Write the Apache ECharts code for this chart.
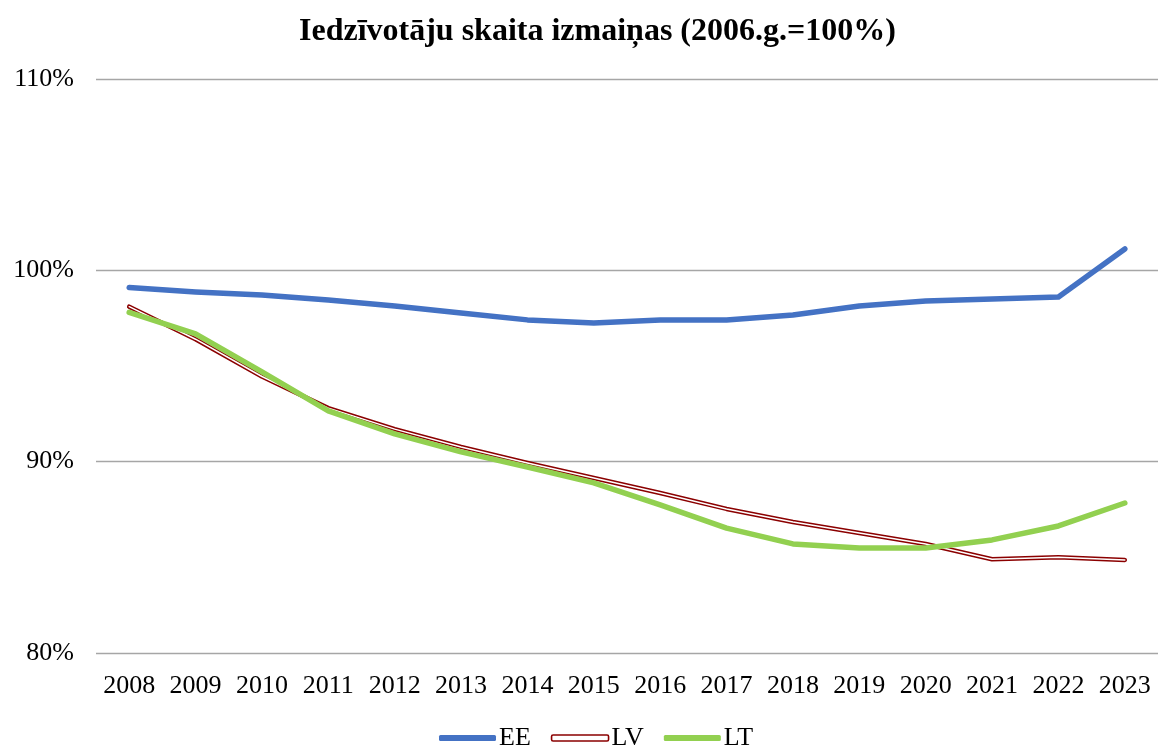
<!DOCTYPE html>
<html>
<head>
<meta charset="utf-8">
<script src="https://cdn.jsdelivr.net/npm/echarts@6/dist/echarts.min.js"></script>
<style>
  html, body { margin: 0; padding: 0; background: #fff; }
  #main { width: 1158px; height: 749px; }
</style>
</head>
<body>
<div id="main"></div>
<script>
// dati
const years = ['2008', '2009', '2010', '2011', '2012', '2013', '2014', '2015',
    '2016', '2017', '2018', '2019', '2020', '2021', '2022', '2023'];
const ee = [99.1, 98.87, 98.71, 98.45, 98.14, 97.77, 97.41, 97.25,
    97.41, 97.41, 97.67, 98.14, 98.4, 98.5, 98.61, 101.12];
const lv = [98.1, 96.4, 94.45, 92.8, 91.7, 90.77, 89.93, 89.15,
    88.36, 87.53, 86.85, 86.27, 85.7, 84.9, 85.0, 84.86];
const lt = [97.8, 96.68, 94.69, 92.65, 91.45, 90.51, 89.72, 88.89,
    87.74, 86.53, 85.7, 85.49, 85.49, 85.91, 86.64, 87.84];

const font = '"Liberation Serif", "Times New Roman", serif';

function initChart() {
    const chart = echarts.init(document.getElementById('main'));
    chart.setOption({
        animation: false,
        title: {
            text: 'Iedzīvotāju skaita izmaiņas (2006.g.=100%)',
            left: 294,
            top: 11,
            textStyle: { fontFamily: font, fontSize: 32, fontWeight: 'bold', color: '#000' }
        },
        legend: {
            top: 720,
            left: 434,
            itemWidth: 57,
            itemHeight: 6,
            itemGap: 20,
            icon: 'roundRect',
            textStyle: { fontFamily: font, fontSize: 26, color: '#000', padding: [0, 0, 0, -2] },
            data: [
                { name: 'EE', itemStyle: { color: '#4472C4' } },
                { name: 'LV', itemStyle: { color: '#fff', borderColor: '#8B0000', borderWidth: 1.6 } },
                { name: 'LT', itemStyle: { color: '#92D050' } }
            ]
        },
        grid: { left: 96, right: -10, top: 79, bottom: 96 },
        xAxis: {
            type: 'category',
            data: years,
            axisLine: { show: false },
            axisTick: { show: false },
            axisLabel: { fontFamily: font, fontSize: 26, color: '#000', margin: 20, interval: 0, hideOverlap: false }
        },
        yAxis: {
            type: 'value',
            min: 80,
            max: 110,
            interval: 10,
            axisLabel: {
                fontFamily: font, fontSize: 26, color: '#000', margin: 22,
                formatter: v => v + '%'
            },
            splitLine: { lineStyle: { color: '#A6A6A6', width: 1.3 } }
        },
        series: [
            {
                name: 'EE', type: 'line', data: ee, symbol: 'none',
                lineStyle: { color: '#4472C4', width: 5.5, cap: 'round', join: 'round' },
                itemStyle: { color: '#4472C4' }
            },
            {
                name: 'LV', type: 'line', data: lv, symbol: 'none',
                lineStyle: { color: '#8B0000', width: 4.5, cap: 'round', join: 'round' },
                itemStyle: { color: '#8B0000' }
            },
            {
                name: 'LV_in', type: 'line', data: lv, symbol: 'none', silent: true,
                lineStyle: { color: '#fff', width: 1.5, cap: 'round', join: 'round' }
            },
            {
                name: 'LT', type: 'line', data: lt, symbol: 'none',
                lineStyle: { color: '#92D050', width: 5.5, cap: 'round', join: 'round' },
                itemStyle: { color: '#92D050' }
            }
        ]
    });
}

document.addEventListener('DOMContentLoaded', initChart);
</script>
</body>
</html>
